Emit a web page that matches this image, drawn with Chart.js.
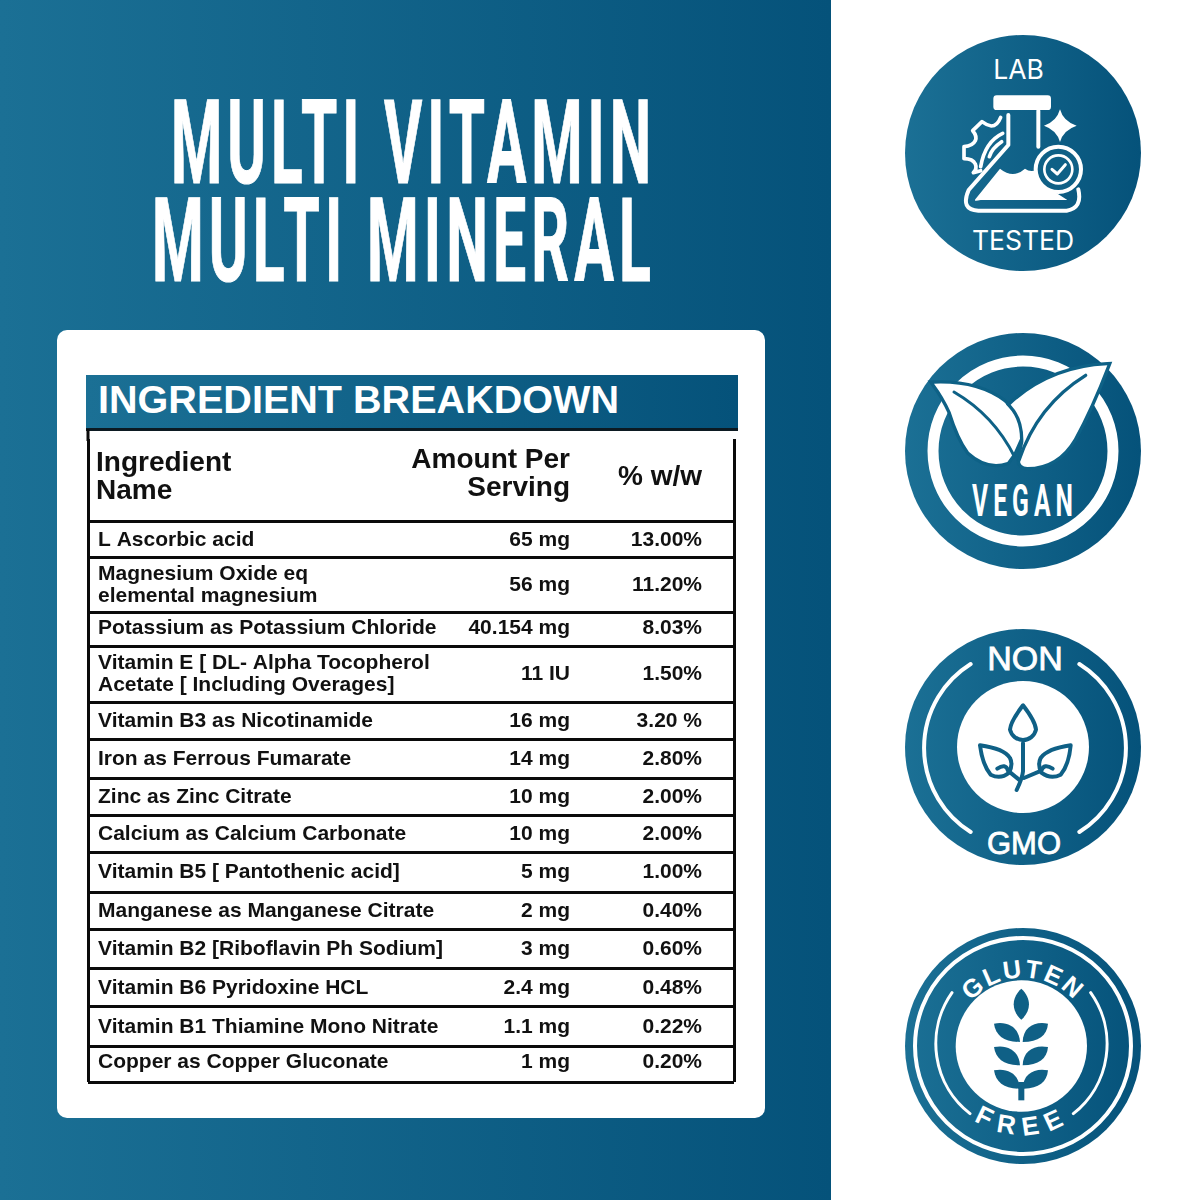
<!DOCTYPE html>
<html><head><meta charset="utf-8">
<style>
html,body{margin:0;padding:0;background:#fff;width:1200px;height:1200px;overflow:hidden}
#art,#c{position:absolute;left:0;top:0;width:1200px;height:1200px}
</style>
<script src="https://cdn.jsdelivr.net/npm/chart.js@4"></script>
</head><body>
<svg id="art" viewBox="0 0 1200 1200" xmlns="http://www.w3.org/2000/svg">
<defs>
<linearGradient id="bg" x1="0" x2="1" y1="0" y2="0"><stop offset="0" stop-color="#1b7095"/><stop offset="1" stop-color="#05527a"/></linearGradient>
<path id="gTop" d="M192,397 A205,205 0 0 1 602,397"/>
<path id="gBot" d="M130,397 A267,267 0 0 0 664,397"/>
</defs>
<rect x="0" y="0" width="831" height="1200" fill="url(#bg)"/>
<text x="171" y="183" textLength="485" lengthAdjust="spacingAndGlyphs" font-family="Roboto" font-weight="700" font-size="117" letter-spacing="10" fill="#fff" stroke="#fff" stroke-width="1">MULTI VITAMIN</text>
<text x="152" y="281" textLength="504" lengthAdjust="spacingAndGlyphs" font-family="Roboto" font-weight="700" font-size="117" letter-spacing="10" fill="#fff" stroke="#fff" stroke-width="1">MULTI MINERAL</text>
<rect x="57" y="330" width="708" height="788" rx="10" fill="#fff"/>
<rect x="86" y="375" width="652" height="54" fill="url(#bg)"/>
<rect x="86" y="428" width="652" height="3" fill="#0c1a22"/>
<rect x="86.500" y="429" width="3" height="12" fill="#0a0a0a"/>
<text x="98" y="413" textLength="521" lengthAdjust="spacingAndGlyphs" font-family="Liberation Sans" font-weight="700" font-size="38" fill="#fff">INGREDIENT BREAKDOWN</text>

<!-- LAB TESTED -->
<circle cx="1023" cy="153" r="118" fill="url(#bg)"/>
<text x="1018.500" y="79" text-anchor="middle" font-family="Inter" font-size="26.500" fill="#fff">LAB</text>
<text x="1023" y="250" text-anchor="middle" font-family="Inter" font-size="26.500" fill="#fff">TESTED</text>
<g transform="translate(1023,153) scale(.3333) translate(-399,-399)" fill="none" stroke="#fff" stroke-width="12" stroke-linecap="round" stroke-linejoin="round">
<rect x="310" y="226" width="173" height="44" rx="10" fill="#fff" stroke="none"/>
<path d="M445,272V380"/>
<path d="M355,285V375L236,510Q210,570 265,572H530Q578,565 565,508"/>
<path d="M256,538L330,446Q370,478 405,446Q420,458 440,450L470,500L532,540H272Q250,545 256,538Z" fill="#fff" stroke="none"/>
<circle cx="505" cy="448" r="68" fill="#0f6086"/>
<circle cx="505" cy="448" r="42" stroke-width="8"/>
<path d="M486,448L502,462L526,434" stroke-width="9"/>
<path d="M510,268Q520,305 560,317Q520,330 510,366Q500,330 462,317Q500,305 510,268Z" fill="#fff" stroke="none"/>
<path d="M332,292Q322,318 304,318Q290,316 276,305L248,332Q262,348 256,362Q248,378 222,380L222,416Q248,416 256,432Q262,446 250,458L272,452" stroke-width="11"/>
<path d="M338,340Q285,365 272,440" stroke-width="11"/>
<path d="M335,365Q305,385 298,410" stroke-width="11"/>
</g>

<!-- VEGAN -->
<circle cx="1023" cy="451" r="118" fill="url(#bg)"/>
<g transform="translate(1023,451) scale(.3333) translate(-397,-397)" fill="#fff">
<circle cx="397" cy="397" r="270" fill="none" stroke="#fff" stroke-width="33"/>
<path d="M130,195Q260,190 340,250Q395,300 388,360L368,405L350,430Q290,450 235,400Q205,360 180,280Q160,235 130,195Z" stroke="#0e6186" stroke-width="20" paint-order="stroke"/>
<path d="M650,140Q480,148 360,258Q400,300 398,370L388,420Q385,445 410,445Q500,445 550,360Q600,270 650,140Z" stroke="#0e6186" stroke-width="20" paint-order="stroke"/>
<path d="M190,220Q310,290 372,415" fill="none" stroke="#0e6186" stroke-width="9" stroke-linecap="round"/>
<path d="M585,170Q440,260 385,425" fill="none" stroke="#0e6186" stroke-width="10" stroke-linecap="round"/>
</g>
<text x="972" y="516" textLength="106" lengthAdjust="spacingAndGlyphs" font-family="Roboto" font-weight="700" font-size="44" letter-spacing="9" fill="#fff">VEGAN</text>

<!-- NON GMO -->
<circle cx="1023" cy="747" r="118" fill="url(#bg)"/>
<circle cx="1023" cy="747" r="66" fill="#fff"/>
<g transform="translate(1023,747) scale(.3333) translate(-397,-397)" fill="none" stroke="#fff" stroke-width="12" stroke-linecap="round" stroke-linejoin="round">
<path d="M240,148A297,297 0 0 0 240,652"/>
<path d="M566,148A297,297 0 0 1 566,652"/>
<g stroke="#0f6086">
<path d="M397,272Q360,320 358,345A40,40 0 0 0 436,345Q434,320 397,272Z"/>
<path d="M397,385V470Q395,490 378,526"/>
<path d="M268,392Q340,402 358,430Q368,450 355,474Q330,495 300,480Q275,450 268,392Z"/>
<path d="M540,392Q470,402 450,430Q440,450 452,474Q480,495 510,480Q535,450 540,392Z"/>
<path d="M320,462Q345,445 352,468L385,495"/>
<path d="M486,462Q460,445 452,468L400,490"/>
</g>
</g>
<text x="1025" y="670" text-anchor="middle" font-family="Liberation Sans" font-size="34" fill="#fff" stroke="#fff" stroke-width=".8">NON</text>
<text x="1024" y="854" text-anchor="middle" font-family="Liberation Sans" font-size="31" fill="#fff" stroke="#fff" stroke-width=".8">GMO</text>

<!-- GLUTEN FREE -->
<circle cx="1023" cy="1046" r="118" fill="url(#bg)"/>
<g transform="translate(1023,1046) scale(.3333) translate(-397,-397)" fill="none" stroke="#fff" stroke-linecap="round">
<circle cx="397" cy="397" r="324" stroke-width="12"/>
<path d="M184,237A266,266 0 0 0 238,600" stroke-width="9"/>
<path d="M600,237A266,266 0 0 1 548,600" stroke-width="9"/>
<circle cx="392" cy="397" r="197" fill="#fff" stroke="none"/>
<g fill="#0f6086" stroke="none">
<path d="M392,225C425,255 420,295 392,318C364,295 359,255 392,225Z"/>
<path d="M388,385C340,385 315,365 310,330C350,322 385,340 388,385Z"/><path d="M396,385C444,385 469,365 472,330C432,322 397,340 396,385Z"/>
<path d="M388,455C340,455 315,435 310,400C350,392 385,410 388,455Z"/><path d="M396,455C444,455 469,435 472,400C432,392 397,410 396,455Z"/>
<path d="M384,525C340,525 315,505 310,470C350,462 385,480 388,525Z"/><path d="M400,525C444,525 469,505 472,470C432,462 397,480 396,525Z"/>
<rect x="383" y="505" width="18" height="55"/>
</g>
<text font-family="Liberation Sans" font-weight="700" font-size="76" fill="#fff" stroke="none" letter-spacing="7"><textPath href="#gTop" startOffset="50%" text-anchor="middle">GLUTEN</textPath></text>
<text font-family="Liberation Sans" font-weight="700" font-size="78" fill="#fff" stroke="none" letter-spacing="26"><textPath href="#gBot" startOffset="50%" text-anchor="middle">FREE</textPath></text>
</g>
</svg>
<canvas id="c" width="1200" height="1200"></canvas>
<script>
const ingredients = ["L Ascorbic acid","Magnesium Oxide eq\nelemental magnesium","Potassium as Potassium Chloride","Vitamin E [ DL- Alpha Tocopherol\nAcetate [ Including Overages]","Vitamin B3 as Nicotinamide","Iron as Ferrous Fumarate","Zinc as Zinc Citrate","Calcium as Calcium Carbonate","Vitamin B5 [ Pantothenic acid]","Manganese as Manganese Citrate","Vitamin B2 [Riboflavin Ph Sodium]","Vitamin B6 Pyridoxine HCL","Vitamin B1 Thiamine Mono Nitrate","Copper as Copper Gluconate"];
const amounts = ["65 mg","56 mg","40.154 mg","11 IU","16 mg","14 mg","10 mg","10 mg","5 mg","2 mg","3 mg","2.4 mg","1.1 mg","1 mg"];
const percents = ["13.00%","11.20%","8.03%","1.50%","3.20 %","2.80%","2.00%","2.00%","1.00%","0.40%","0.60%","0.48%","0.22%","0.20%"];
const headers = ["Ingredient\nName","Amount Per\nServing","% w/w"];
const rowHeights = [92,36,55,34,56,37,39,37,37,40,37,39,38,40,36];
const rowNudge = [0,1,1,-1,0,1,1,1,1,0,1,1,1,1,-2];
const columnAnchors = [10,482,614];
const headerAnchors = [8,482,614];

const edges=[]; let acc=0; rowHeights.forEach(h=>{acc+=h;edges.push(acc);});
const mid=i=>(i===0?0:edges[i-1])+rowHeights[i]/2+rowNudge[i];
const pts=(labels,col)=>labels.map((t,i)=>({x:columnAnchors[col],y:mid(i+1),label:t}));
const headerPts=headers.map((t,i)=>({x:headerAnchors[i],y:i===1?mid(0)-1:(i===0?mid(0)+2:mid(0)+2),label:t}));

const tableText={id:'tableText',afterDatasetsDraw(chart){
  const g=chart.ctx;
  chart.data.datasets.forEach((ds,di)=>{
    chart.getDatasetMeta(di).data.forEach((el,i)=>{
      const lines=ds.data[i].label.split('\n');
      g.save();
      g.fillStyle='#111';g.font=ds.textFont;g.textAlign=ds.textAlign(i);g.textBaseline='middle';
      const lh=ds.lineHeight;
      lines.forEach((s,k)=>g.fillText(s,el.x,el.y+(k-(lines.length-1)/2)*lh));
      g.restore();
    });
  });
}};
const ds=(label,data,font,lh,align)=>({label,data,pointRadius:0,showLine:false,textFont:font,lineHeight:lh,textAlign:align});
const rowFont='700 21px "Liberation Sans"';
new Chart(document.getElementById('c'),{
  type:'scatter',
  data:{datasets:[
    ds('Ingredient',pts(ingredients,0),rowFont,22,()=>'left'),
    ds('Amount',pts(amounts,1),rowFont,22,()=>'right'),
    ds('% w/w',pts(percents,2),rowFont,22,()=>'right'),
    ds('Header',headerPts,'700 28px "Liberation Sans"',28,i=>i===0?'left':'right')
  ]},
  options:{
    responsive:false,animation:false,devicePixelRatio:1,
    layout:{padding:{left:88,right:466,top:439,bottom:118}},
    plugins:{legend:{display:false},tooltip:{enabled:false},title:{display:false}},
    scales:{
      x:{type:'linear',min:0,max:646,
        afterBuildTicks(s){s.ticks=[{value:0},{value:646}];},
        grid:{color:'#0a0a0a',lineWidth:3,drawTicks:false},border:{display:false},ticks:{display:false}},
      y:{type:'linear',reverse:true,min:10,max:edges[edges.length-1],
        afterBuildTicks(s){s.ticks=edges.map(v=>({value:v}));},
        grid:{color:'#0a0a0a',lineWidth:3,drawTicks:false},border:{display:false},ticks:{display:false}}
    }
  },
  plugins:[tableText]
});
</script>
</body></html>
